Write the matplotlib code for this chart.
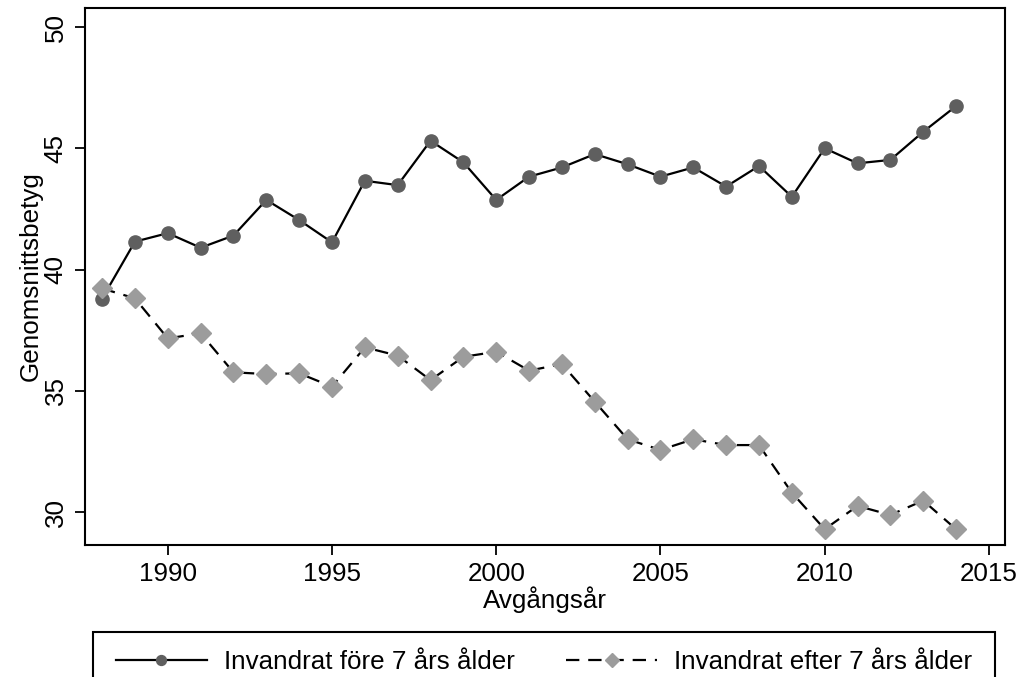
import numpy as np
import matplotlib.pyplot as plt
from matplotlib.patches import Rectangle

plt.rcParams['font.family'] = ['Liberation Sans', 'DejaVu Sans']

years = list(range(1988, 2015))
fore_7 = [38.8, 41.15, 41.5, 40.9, 41.4, 42.87, 42.04, 41.12, 43.66, 43.48,
          45.31, 44.42, 42.87, 43.83, 44.21, 44.76, 44.34, 43.83, 44.21, 43.42,
          44.27, 43.0, 45.0, 44.38, 44.52, 45.68, 46.74]
efter_7 = [39.22, 38.81, 37.16, 37.37, 35.76, 35.69, 35.72, 35.17, 36.79, 36.45,
           35.44, 36.4, 36.61, 35.83, 36.1, 34.55, 33.0, 32.56, 33.0, 32.76,
           32.76, 30.8, 29.29, 30.25, 29.88, 30.47, 29.29]
x_ticks = [1990, 1995, 2000, 2005, 2010, 2015]
y_ticks = [30, 35, 40, 45, 50]

fs = 18.7

fig = plt.figure(figsize=(10.23, 6.77), dpi=100)
ax = fig.add_axes([0.0831, 0.195, 0.8993, 0.793])

ax.plot(years, fore_7, color='black', linewidth=1.6, marker='o', markersize=9.5,
        markerfacecolor='#5f5f5f', markeredgecolor='#5f5f5f',
        label='Invandrat före 7 års ålder', zorder=3)
ax.plot(years, efter_7, color='black', linewidth=1.6, linestyle=(0, (6, 4)),
        marker='D', markersize=10, markerfacecolor='#9c9c9c', markeredgecolor='#9c9c9c',
        label='Invandrat efter 7 års ålder', zorder=4)

ax.set_xlim(1987.48, 2015.49)
ax.set_ylim(28.64, 50.78)
ax.set_xticks(x_ticks)
ax.set_yticks(y_ticks)
ax.tick_params(axis='both', direction='out', length=7.5, width=1.3, labelsize=fs, pad=5)
ax.tick_params(axis='y', labelrotation=90)
for lab in ax.get_yticklabels():
    lab.set_verticalalignment('center')
for sp in ax.spines.values():
    sp.set_linewidth(1.5)

ax.set_xlabel('Avgångsår', fontsize=fs, labelpad=0)
ax.set_ylabel('Genomsnittsbetyg', fontsize=fs, labelpad=1)

# legend box runs off the bottom of the picture
fig.patches.append(Rectangle((93 / 1023, -0.05), 902 / 1023, 0.05 + 45 / 677,
                             transform=fig.transFigure, fill=False,
                             edgecolor='black', linewidth=1.5))
fig.legend(loc='center', bbox_to_anchor=(544 / 1023, 0.022), ncol=2, frameon=False,
           fontsize=fs, handlelength=3.5, columnspacing=2.0, handletextpad=0.65,
           markerscale=0.75)

fig.savefig('out.png', dpi=100)
